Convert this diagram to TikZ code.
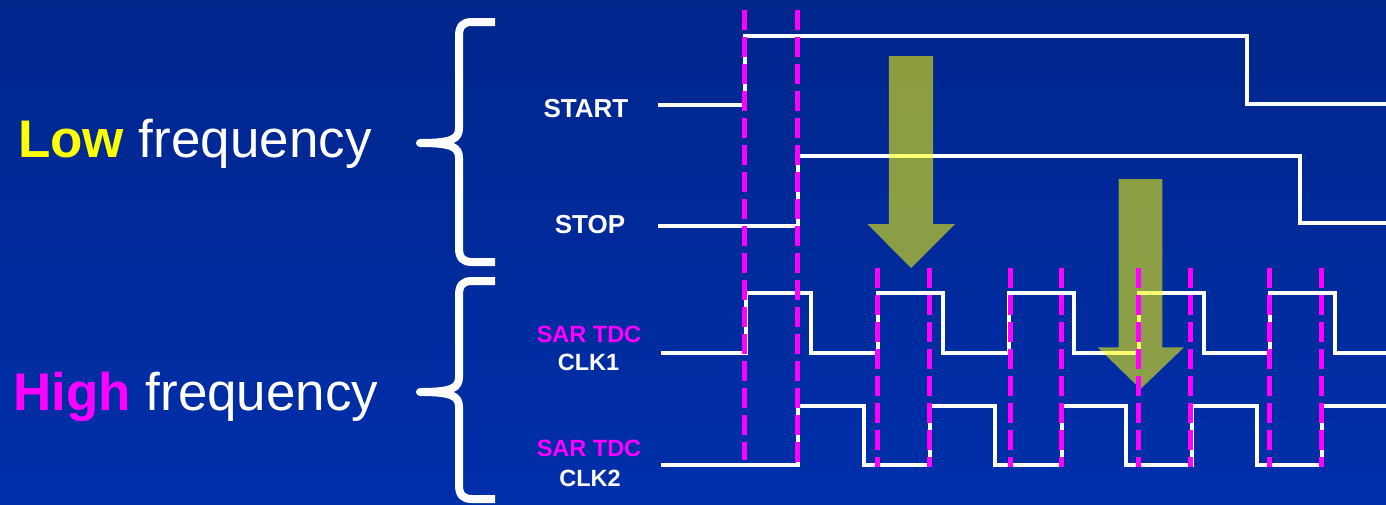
\documentclass[tikz,border=0pt]{standalone}
\usepackage{fontspec}
\setmainfont{Liberation Sans}
\definecolor{bgtop}{RGB}{0,38,140}
\definecolor{bgbot}{RGB}{0,47,170}
\definecolor{mag}{RGB}{255,0,255}
\definecolor{yel}{RGB}{255,255,0}
\tikzset{
  sig/.style={white, line width=4pt, line join=miter, line cap=butt},
  mdash/.style={mag, line width=5pt, dash pattern=on 20pt off 7pt},
  bracestyle/.style={white, line width=8pt, line join=round, line cap=butt},
  bigarrow/.style={fill=yel, fill opacity=0.55, draw=none},
  biglbl/.style={inner sep=0pt, anchor=base west, text=white, font=\fontsize{53}{60}\selectfont},
  siglbl/.style={inner sep=0pt, anchor=base, text=white, font=\fontsize{26}{30}\selectfont\bfseries},
  clklbl/.style={inner sep=0pt, anchor=base, text=white, font=\fontsize{23.5}{28}\selectfont\bfseries},
}
\begin{document}
\begin{tikzpicture}[x=1pt, y=-1pt]
\useasboundingbox (0,0) rectangle (1386,504);
\shade[top color=bgtop, bottom color=bgbot] (0,0) rectangle (1386,504);

% left labels
\node[biglbl] (lowlbl) at (18,157) {\textcolor{yel}{\bfseries Low} frequency};
\node[biglbl] (highlbl) at (13,410) {\textcolor{mag}{\bfseries High} frequency};

% braces
\draw[bracestyle] (495,22) -- (472,22) .. controls (463,22) and (459,26) .. (459,36)
  -- (459,128) .. controls (459,139) and (452,143) .. (420,143)
  .. controls (452,143) and (459,147) .. (459,158)
  -- (459,248) .. controls (459,258) and (463,262) .. (472,262) -- (495,262);
\draw[bracestyle] (495,281) -- (472,281) .. controls (463,281) and (459,285) .. (459,295)
  -- (459,377) .. controls (459,388) and (452,392) .. (420,392)
  .. controls (452,392) and (459,396) .. (459,407)
  -- (459,485) .. controls (459,495) and (463,499) .. (472,499) -- (495,499);

% signal labels
\node[siglbl] (start) at (586,117.3) {START};
\node[siglbl] (stop) at (590,233.3) {STOP};
\node[clklbl, text=mag] (sar1) at (589,342.3) {SAR TDC};
\node[clklbl] (clk1) at (588.5,370) {CLK1};
\node[clklbl, text=mag] (sar2) at (589,456.7) {SAR TDC};
\node[clklbl] (clk2) at (590,486) {CLK2};

% waveforms
\draw[sig] (658,105) -- (744.5,105) -- (744.5,36) -- (1246.5,36) -- (1246.5,103.5) -- (1386,103.5);
\draw[sig] (658,226) -- (797.5,226) -- (797.5,156) -- (1299.5,156) -- (1299.5,222.5) -- (1386,222.5);
\draw[sig] (661,352.7) -- (745.6,352.7) -- (745.6,293.3) -- (811.3,293.3) -- (811.3,352.7)
  -- (877.9,352.7) -- (877.9,293.3) -- (943,293.3) -- (943,352.7)
  -- (1008.7,352.7) -- (1008.7,293.3) -- (1073.9,293.3) -- (1073.9,352.7)
  -- (1138.6,352.7) -- (1138.6,293.3) -- (1203.7,293.3) -- (1203.7,352.7)
  -- (1270.3,352.7) -- (1270.3,293.3) -- (1334.6,293.3) -- (1334.6,352.7) -- (1386,352.7);
\draw[sig] (661,464.7) -- (798.4,464.7) -- (798.4,406) -- (863.6,406) -- (863.6,464.7)
  -- (930.2,464.7) -- (930.2,406) -- (995.4,406) -- (995.4,464.7)
  -- (1061.5,464.7) -- (1061.5,406) -- (1126.2,406) -- (1126.2,464.7)
  -- (1191.9,464.7) -- (1191.9,406) -- (1256.6,406) -- (1256.6,464.7)
  -- (1322.2,464.7) -- (1322.2,406) -- (1386,406);

% big arrows
\fill[bigarrow] (888.8,56) -- (933,56) -- (933,224) -- (955,224) -- (911,268) -- (867.4,224) -- (888.8,224) -- cycle;
\fill[bigarrow] (1118.6,179) -- (1162.4,179) -- (1162.4,347.3) -- (1184,347.3) -- (1140.5,389) -- (1097.6,347.3) -- (1118.6,347.3) -- cycle;

% magenta dashed markers
\draw[mdash] (744.2,10) -- (744.2,460);
\draw[mdash] (797.5,10) -- (797.5,467);
\foreach \xx in {877.9,929.2,1010,1061,1138.6,1190,1269,1321}
  \draw[mdash] (\xx,268) -- (\xx,467);
\end{tikzpicture}
\end{document}
